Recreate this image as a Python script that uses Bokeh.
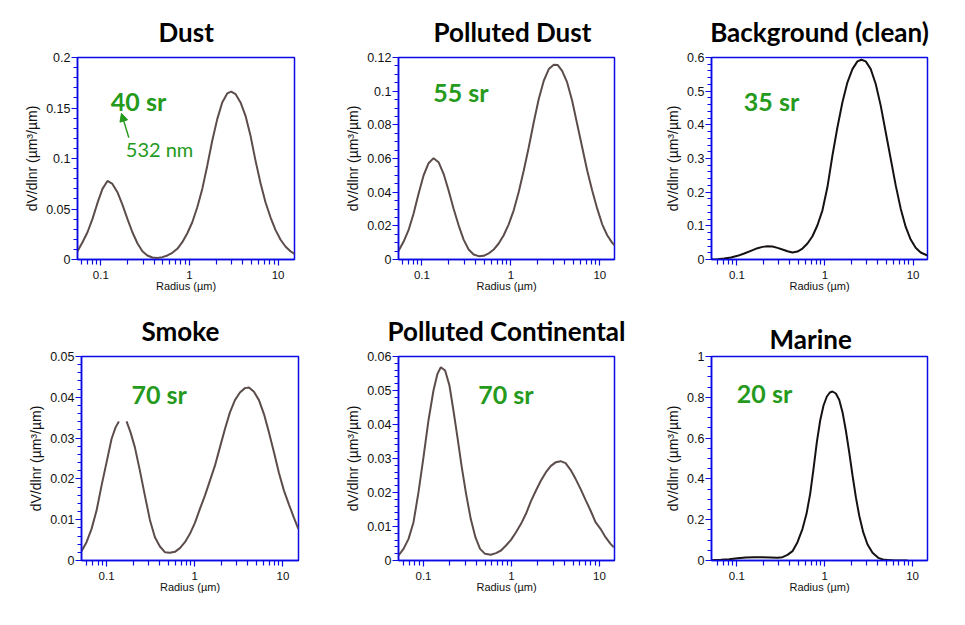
from bokeh.plotting import figure
from bokeh.layouts import row, column
from bokeh.models import (Range1d, FixedTicker, CustomJSTickFormatter, Label,
                          Arrow, NormalHead)
from bokeh.embed import file_html
from bokeh.resources import INLINE

# ---------------- data ----------------
titles = ["Dust", "Polluted Dust", "Background (clean)",
          "Smoke", "Polluted Continental", "Marine"]
lidar_ratios = ["40 sr", "55 sr", "35 sr", "70 sr", "70 sr", "20 sr"]

dust_r = [0.05461, 0.06216, 0.07078, 0.08057, 0.09173, 0.1044, 0.1189, 0.1353, 0.1540, 0.1753,
          0.1996, 0.2272, 0.2587, 0.2944, 0.3352, 0.3816, 0.4344, 0.4945, 0.5630, 0.6409,
          0.7295, 0.8305, 0.9454, 1.076, 1.225, 1.395, 1.588, 1.807, 2.057, 2.342,
          2.666, 2.958, 3.310, 3.767, 4.289, 4.882, 5.557, 6.326, 7.201, 8.198,
          9.333, 10.62, 12.09, 13.77, 15.28]
dust_v = [0.0082, 0.0171, 0.0270, 0.0402, 0.0560, 0.0699, 0.0778, 0.0748, 0.0666, 0.0544,
          0.0402, 0.0270, 0.0161, 0.0082, 0.0040, 0.0020, 0.0016, 0.0023, 0.0040, 0.0066,
          0.0106, 0.0171, 0.0260, 0.0369, 0.0517, 0.0699, 0.0929, 0.1176, 0.1390, 0.1555,
          0.1644, 0.1663, 0.1638, 0.1555, 0.1423, 0.1226, 0.0979, 0.0758, 0.0567, 0.0418,
          0.0293, 0.0198, 0.0129, 0.0082, 0.0056]

pdust_r = [0.05461, 0.06216, 0.07078, 0.08057, 0.09173, 0.1044, 0.1189, 0.1353, 0.1540, 0.1753,
           0.1996, 0.2272, 0.2587, 0.2944, 0.3352, 0.3816, 0.4344, 0.4945, 0.5630, 0.6409,
           0.7295, 0.8305, 0.9454, 1.076, 1.225, 1.395, 1.588, 1.807, 2.057, 2.342,
           2.666, 3.035, 3.367, 3.767, 4.289, 4.882, 5.557, 6.326, 7.201, 8.198,
           9.333, 10.62, 12.09, 13.77, 14.63]
pdust_v = [0.0051, 0.0105, 0.0174, 0.0272, 0.0391, 0.0499, 0.0572, 0.0602, 0.0578, 0.0509,
           0.0410, 0.0302, 0.0203, 0.0118, 0.0059, 0.0030, 0.0020, 0.0022, 0.0036, 0.0059,
           0.0095, 0.0144, 0.0209, 0.0292, 0.0401, 0.0529, 0.0667, 0.0815, 0.0953, 0.1062,
           0.1131, 0.1157, 0.1155, 0.1121, 0.1052, 0.0943, 0.0805, 0.0667, 0.0529, 0.0410,
           0.0302, 0.0209, 0.0144, 0.0099, 0.0085]

bg_r = [0.0516, 0.0603, 0.0718, 0.0855, 0.1018, 0.1211, 0.1441, 0.1715, 0.1955, 0.2227,
        0.2537, 0.2891, 0.3296, 0.3755, 0.4279, 0.4876, 0.5556, 0.6331, 0.7214, 0.8220,
        0.9367, 1.067, 1.216, 1.386, 1.579, 1.800, 2.051, 2.337, 2.594, 2.905,
        3.311, 3.772, 4.298, 4.898, 5.581, 6.360, 7.247, 8.259, 9.408, 10.72,
        12.22, 14.54]
bg_v = [0.0, 0.001, 0.003, 0.0059, 0.0109, 0.0178, 0.0257, 0.0336, 0.0375, 0.0395,
        0.0385, 0.0346, 0.0296, 0.0247, 0.0207, 0.0237, 0.0326, 0.0474, 0.0691, 0.1017,
        0.1461, 0.2152, 0.3090, 0.3929, 0.4669, 0.5262, 0.5656, 0.5884, 0.5933, 0.5884,
        0.5656, 0.5212, 0.4571, 0.3781, 0.2991, 0.2201, 0.1510, 0.0967, 0.0592, 0.0346,
        0.0207, 0.0118]

NaN = float("nan")  # the reference curve is broken near its first peak
smoke_r = [0.05204, 0.05932, 0.06761, 0.07702, 0.08775, 0.1, 0.1139, 0.1265, 0.1380, 0.15,
           0.1686, 0.1872, 0.2096, 0.2388, 0.2721, 0.3101, 0.3534, 0.4026, 0.4587, 0.5227,
           0.5957, 0.6788, 0.7735, 0.8814, 1.004, 1.144, 1.304, 1.486, 1.693, 1.929,
           2.199, 2.505, 2.855, 3.253, 3.707, 4.116, 4.690, 5.344, 6.089, 6.939,
           7.906, 9.007, 10.26, 11.70, 13.33, 14.93]
smoke_v = [0.00228, 0.00449, 0.00775, 0.01223, 0.01835, 0.02406, 0.02977, 0.03263, 0.03409, NaN,
           0.03409, 0.03140, 0.02773, 0.02202, 0.01591, 0.00995, 0.00571, 0.00343, 0.00204, 0.00188,
           0.00212, 0.00302, 0.00449, 0.00653, 0.00922, 0.01264, 0.01591, 0.01958, 0.02325, 0.02773,
           0.03222, 0.03630, 0.03931, 0.04119, 0.04225, 0.04241, 0.04135, 0.03931, 0.03589, 0.03140,
           0.02651, 0.02145, 0.01713, 0.01370, 0.01044, 0.00775]

pcont_r = [0.05204, 0.05932, 0.06761, 0.07702, 0.08775, 0.1, 0.1139, 0.1298, 0.1441, 0.1573,
           0.1761, 0.1972, 0.2189, 0.2430, 0.2721, 0.3047, 0.3442, 0.3889, 0.4392, 0.5005,
           0.5801, 0.6670, 0.7600, 0.8660, 0.9870, 1.125, 1.282, 1.460, 1.664, 1.896,
           2.161, 2.462, 2.805, 3.197, 3.612, 4.116, 4.690, 5.344, 6.089, 6.939,
           7.906, 9.007, 10.26, 11.70, 13.33, 14.54]
pcont_v = [0.00147, 0.00343, 0.00637, 0.01127, 0.0201, 0.03039, 0.04118, 0.05, 0.0549, 0.05686,
           0.05588, 0.05147, 0.04412, 0.03627, 0.02745, 0.01961, 0.01225, 0.00686, 0.00343, 0.00196,
           0.00167, 0.00216, 0.00294, 0.00441, 0.00608, 0.00833, 0.01078, 0.01373, 0.01745, 0.02059,
           0.02353, 0.02598, 0.02784, 0.02892, 0.02922, 0.02863, 0.02667, 0.02402, 0.02108, 0.01784,
           0.01471, 0.01127, 0.00931, 0.00686, 0.0049, 0.00392]

marine_r = [0.05146, 0.06573, 0.08178, 0.1018, 0.1266, 0.1575, 0.1960, 0.2438, 0.2904, 0.3311,
            0.3774, 0.4302, 0.4905, 0.5594, 0.6211, 0.6837, 0.7462, 0.8143, 0.8888, 0.9699,
            1.059, 1.145, 1.228, 1.340, 1.463, 1.596, 1.742, 1.901, 2.075, 2.264,
            2.471, 2.744, 3.074, 3.505, 4.066, 4.759, 6.184, 8.773]
marine_v = [0.0016, 0.0033, 0.0065, 0.0114, 0.0147, 0.0163, 0.0163, 0.0147, 0.0131, 0.0163,
            0.0278, 0.0458, 0.0899, 0.1552, 0.2288, 0.3268, 0.4493, 0.5801, 0.6863, 0.7598,
            0.8039, 0.8235, 0.8284, 0.8186, 0.7876, 0.7271, 0.6373, 0.5310, 0.4167, 0.3105,
            0.2206, 0.1389, 0.0784, 0.0376, 0.0131, 0.0033, 0.0, 0.0]

radii = [dust_r, pdust_r, bg_r, smoke_r, pcont_r, marine_r]
values = [dust_v, pdust_v, bg_v, smoke_v, pcont_v, marine_v]
for _r, _v in zip(radii, values):
    assert len(_r) == len(_v)

x_ranges = [(0.0546, 15.3), (0.0546, 14.6), (0.0515, 14.6),
            (0.052, 15.0), (0.052, 14.8), (0.0515, 14.8)]
y_max = [0.2, 0.12, 0.6, 0.05, 0.06, 1.0]
y_major = [[0, 0.05, 0.1, 0.15, 0.2],
           [0, 0.02, 0.04, 0.06, 0.08, 0.1, 0.12],
           [0, 0.1, 0.2, 0.3, 0.4, 0.5, 0.6],
           [0, 0.01, 0.02, 0.03, 0.04, 0.05],
           [0, 0.01, 0.02, 0.03, 0.04, 0.05, 0.06],
           [0, 0.2, 0.4, 0.6, 0.8, 1.0]]
y_minor_step = [0.01, 0.005, 0.02, 0.002, 0.002, 0.05]
x_major = [0.1, 1, 10]
x_minor = [0.05, 0.06, 0.07, 0.08, 0.09, 0.2, 0.3, 0.4, 0.5, 0.6, 0.7, 0.8, 0.9,
           2, 3, 4, 5, 6, 7, 8, 9]

# annotation anchors (data units of each panel)
ratio_pos = [(0.1297, 0.1572), (0.134, 0.0997), (0.120, 0.4715),
             (0.192, 0.0408), (0.418, 0.0491), (0.100, 0.819)]
wl_text = "532 nm"
wl_pos = (0.1913, 0.1098)
arrow_tail = (0.207, 0.1207)
arrow_head = (0.171, 0.1447)
# title placement: (align, horizontal offset px, standoff px)
title_place = [("left", 81, 20), ("left", 35, 20), ("center", 0, 20),
               ("left", 60, 20), ("center", 0, 20), ("left", 58, 4)]

# ---------------- layout / style ----------------
widths = [320, 320, 325, 320, 320, 325]
heights = [300, 300, 300, 325, 325, 325]
borders = [(77, 26, 57, 41), (78, 26, 57, 41), (71, 38, 57, 41),
           (81, 22, 56, 65), (78, 26, 56, 65), (71, 38, 56, 65)]
line_colors = ["#5c4d4b", "#5c4d4b", "#161212", "#5c4d4b", "#5c4d4b", "#161212"]
BLUE = "#0a0ae6"
GREEN = "#259a1c"

fmt = CustomJSTickFormatter(code="return String(parseFloat(tick.toFixed(6)));")


def make_panel(i):
    left, right, top, bottom = borders[i]
    p = figure(width=widths[i], height=heights[i], x_axis_type="log",
               x_range=Range1d(*x_ranges[i]), y_range=Range1d(0, y_max[i]),
               output_backend="svg", toolbar_location=None, title=titles[i],
               min_border_left=left, min_border_right=right,
               min_border_top=top, min_border_bottom=bottom)
    align, off, standoff = title_place[i]
    p.title.align = align
    p.title.offset = off
    p.title.standoff = standoff
    p.title.text_font = "Lato"
    p.title.text_font_style = "bold"
    p.title.text_font_size = "26px"
    p.title.text_color = "black"
    p.grid.visible = False
    p.outline_line_color = BLUE
    p.outline_line_width = 1.5
    p.background_fill_color = "white"
    p.border_fill_color = "white"

    n_minor = int(round(y_max[i] / y_minor_step[i]))
    minor = [round(k * y_minor_step[i], 6) for k in range(n_minor + 1)]
    p.yaxis.ticker = FixedTicker(ticks=y_major[i], minor_ticks=minor)
    p.xaxis.ticker = FixedTicker(ticks=x_major, minor_ticks=x_minor)
    p.xaxis.formatter = fmt
    p.yaxis.formatter = fmt

    for ax in (p.xaxis[0], p.yaxis[0]):
        ax.axis_line_color = BLUE
        ax.axis_line_width = 1.5
        ax.major_tick_line_color = BLUE
        ax.minor_tick_line_color = BLUE
        ax.major_tick_line_width = 1.2
        ax.minor_tick_line_width = 1.2
        ax.major_tick_in = 0
        ax.minor_tick_in = 0
        ax.major_label_text_color = "#111111"
        ax.major_label_text_font = "Liberation Sans"
        ax.axis_label_text_font = "Liberation Sans"
        ax.axis_label_text_font_style = "normal"
        ax.axis_label_text_color = "#111111"

    p.yaxis.major_tick_out = 6
    p.yaxis.minor_tick_out = 4
    p.xaxis.major_tick_out = 6
    p.xaxis.minor_tick_out = 5
    p.yaxis.major_label_text_font_size = "12.5px"
    p.xaxis.major_label_text_font_size = "11.5px"
    p.yaxis.major_label_standoff = 1
    p.xaxis.major_label_standoff = 5
    p.yaxis.axis_label = "dV/dlnr (µm³/µm)"
    p.yaxis.axis_label_text_font_size = "14px"
    p.yaxis.axis_label_standoff = 3
    p.xaxis.axis_label = "Radius (µm)"
    p.xaxis.axis_label_text_font_size = "11px"
    p.xaxis.axis_label_standoff = -2

    p.line(radii[i], values[i], line_color=line_colors[i], line_width=2)

    rx, ry = ratio_pos[i]
    p.add_layout(Label(x=rx, y=ry, text=lidar_ratios[i], text_align="left",
                       text_baseline="alphabetic", text_font="Lato",
                       text_font_style="bold", text_font_size="25px",
                       text_color=GREEN))
    if i == 0:
        p.add_layout(Label(x=wl_pos[0], y=wl_pos[1], text=wl_text,
                           text_align="left", text_baseline="alphabetic",
                           text_font="Lato", text_font_size="20px",
                           text_color=GREEN))
        p.add_layout(Arrow(x_start=arrow_tail[0], y_start=arrow_tail[1],
                           x_end=arrow_head[0], y_end=arrow_head[1],
                           line_color=GREEN, line_width=1.5,
                           end=NormalHead(size=8, fill_color=GREEN,
                                          line_color=GREEN)))
    return p


panels = [make_panel(i) for i in range(6)]
layout = column(row(*panels[:3]), row(*panels[3:]))

open("out.html", "w").write(file_html(layout, INLINE))
